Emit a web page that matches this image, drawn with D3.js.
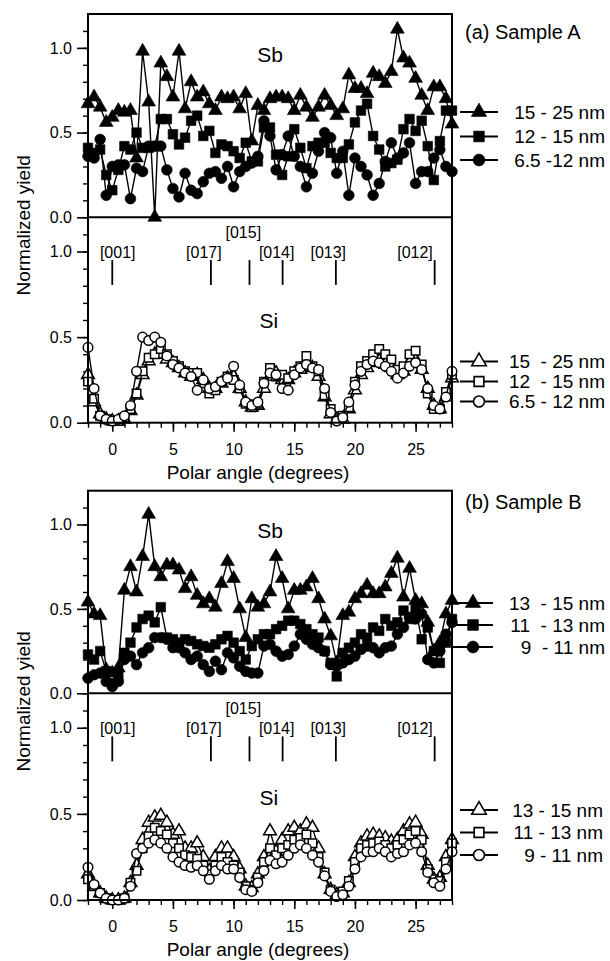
<!DOCTYPE html>
<html>
<head>
<meta charset="utf-8">
<script src="https://cdn.jsdelivr.net/npm/d3@7"></script>
<style>
  body { margin: 0; background: #fff; }
  text { font-family: "Liberation Sans", Arial, sans-serif; fill: #000; }
</style>
</head>
<body>
<script>
const WIDTH = 610;
const HEIGHT = 961;

// polar angle (degrees) of every measured point
const angles = [-2, -1.5, -1, -0.5, 0, 0.5, 1, 1.5, 2, 2.5, 3, 3.5, 4, 4.5, 5, 5.5, 6, 6.5, 7, 7.5,
  8, 8.5, 9, 9.5, 10, 10.5, 11, 11.5, 12, 12.5, 13, 13.5, 14, 14.5, 15, 15.5, 16, 16.5, 17, 17.5,
  18, 18.5, 19, 19.5, 20, 20.5, 21, 21.5, 22, 22.5, 23, 23.5, 24, 24.5, 25, 25.5, 26, 26.5, 27, 27.5, 28];

// (a) Sample A - Sb
const sbA1 = [0.67, 0.71, 0.65, 0.56, 0.59, 0.63, 0.62, 0.63, 0.35, 0.98,
  0.68, 0.00, 0.91, 0.83, 0.71, 0.98, 0.64, 0.80, 0.71, 0.74,
  0.67, 0.63, 0.71, 0.70, 0.71, 0.64, 0.73, 0.45, 0.66, 0.63,
  0.70, 0.71, 0.71, 0.70, 0.63, 0.72, 0.65, 0.59, 0.65, 0.72,
  0.66, 0.60, 0.64, 0.84, 0.76, 0.76, 0.73, 0.85, 0.83, 0.79,
  0.86, 1.11, 0.94, 0.91, 0.82, 0.72, 0.63, 0.77, 0.77, 0.70, 0.55];
const sbA2 = [0.41, 0.38, 0.40, 0.25, 0.16, 0.28, 0.42, 0.40, 0.50, 0.41,
  0.41, 0.42, 0.58, 0.58, 0.49, 0.43, 0.47, 0.57, 0.60, 0.48,
  0.51, 0.38, 0.43, 0.42, 0.39, 0.35, 0.44, 0.33, 0.33, 0.53,
  0.53, 0.37, 0.25, 0.36, 0.52, 0.41, 0.29, 0.42, 0.44, 0.44,
  0.38, 0.35, 0.35, 0.43, 0.56, 0.63, 0.67, 0.48, 0.40, 0.30,
  0.32, 0.34, 0.52, 0.58, 0.51, 0.57, 0.42, 0.22, 0.45, 0.63, 0.63];
const sbA3 = [0.36, 0.35, 0.46, 0.13, 0.30, 0.31, 0.31, 0.11, 0.29, 0.27,
  0.42, 0.42, 0.42, 0.28, 0.17, 0.12, 0.26, 0.16, 0.14, 0.21,
  0.26, 0.27, 0.23, 0.30, 0.18, 0.27, 0.30, 0.32, 0.36, 0.57,
  0.48, 0.28, 0.37, 0.48, 0.36, 0.30, 0.18, 0.26, 0.39, 0.50,
  0.47, 0.26, 0.39, 0.13, 0.35, 0.30, 0.25, 0.13, 0.20, 0.33,
  0.44, 0.35, 0.38, 0.44, 0.20, 0.27, 0.27, 0.35, 0.40, 0.30, 0.27];

// (a) Sample A - Si
const siA1 = [0.28, 0.12, 0.05, 0.02, 0.01, 0.01, 0.02, 0.07, 0.16, 0.28,
  0.36, 0.40, 0.40, 0.37, 0.35, 0.32, 0.29, 0.27, 0.28, 0.25,
  0.20, 0.20, 0.23, 0.26, 0.27, 0.20, 0.12, 0.09, 0.10, 0.20,
  0.27, 0.29, 0.25, 0.25, 0.29, 0.31, 0.35, 0.32, 0.27, 0.15,
  0.05, 0.02, 0.02, 0.08, 0.19, 0.28, 0.32, 0.35, 0.36, 0.34,
  0.32, 0.28, 0.30, 0.35, 0.36, 0.31, 0.20, 0.10, 0.08, 0.15, 0.26];
const siA2 = [0.24, 0.14, 0.04, 0.02, 0.01, 0.01, 0.03, 0.08, 0.17, 0.30,
  0.38, 0.40, 0.43, 0.40, 0.36, 0.33, 0.30, 0.29, 0.29, 0.23,
  0.17, 0.19, 0.24, 0.27, 0.25, 0.20, 0.11, 0.09, 0.11, 0.24,
  0.32, 0.27, 0.28, 0.26, 0.30, 0.33, 0.39, 0.33, 0.30, 0.16,
  0.08, 0.02, 0.04, 0.09, 0.24, 0.33, 0.36, 0.40, 0.43, 0.40,
  0.37, 0.31, 0.33, 0.40, 0.42, 0.34, 0.17, 0.08, 0.08, 0.18, 0.28];
const siA3 = [0.44, 0.20, 0.04, 0.02, 0.01, 0.02, 0.04, 0.10, 0.30, 0.50,
  0.48, 0.50, 0.47, 0.39, 0.34, 0.32, 0.29, 0.27, 0.19, 0.25,
  0.20, 0.21, 0.24, 0.26, 0.33, 0.22, 0.12, 0.10, 0.12, 0.23,
  0.29, 0.28, 0.20, 0.19, 0.28, 0.32, 0.34, 0.32, 0.31, 0.20,
  0.06, 0.01, 0.03, 0.12, 0.22, 0.30, 0.34, 0.36, 0.35, 0.33,
  0.30, 0.26, 0.29, 0.33, 0.35, 0.31, 0.20, 0.10, 0.08, 0.15, 0.30];

// (b) Sample B - Sb
const sbB1 = [0.54, 0.47, 0.46, 0.14, 0.12, 0.15, 0.61, 0.75, 0.60, 0.81,
  1.06, 0.75, 0.69, 0.76, 0.76, 0.73, 0.62, 0.69, 0.58, 0.53,
  0.56, 0.51, 0.65, 0.78, 0.68, 0.50, 0.33, 0.56, 0.51, 0.53,
  0.60, 0.81, 0.68, 0.50, 0.61, 0.61, 0.63, 0.68, 0.56, 0.44,
  0.34, 0.18, 0.46, 0.48, 0.56, 0.59, 0.64, 0.59, 0.59, 0.63,
  0.71, 0.80, 0.57, 0.74, 0.55, 0.53, 0.42, 0.25, 0.30, 0.47, 0.55];
const sbB2 = [0.23, 0.20, 0.25, 0.13, 0.06, 0.10, 0.24, 0.30, 0.39, 0.44,
  0.46, 0.42, 0.51, 0.33, 0.32, 0.30, 0.32, 0.31, 0.29, 0.28,
  0.27, 0.29, 0.32, 0.34, 0.30, 0.25, 0.20, 0.28, 0.32, 0.35,
  0.35, 0.38, 0.40, 0.43, 0.43, 0.41, 0.38, 0.35, 0.33, 0.25,
  0.18, 0.10, 0.24, 0.27, 0.30, 0.35, 0.33, 0.39, 0.37, 0.44,
  0.40, 0.42, 0.49, 0.44, 0.50, 0.32, 0.39, 0.25, 0.18, 0.30, 0.44];
const sbB3 = [0.09, 0.11, 0.12, 0.07, 0.04, 0.07, 0.20, 0.22, 0.17, 0.24,
  0.27, 0.33, 0.33, 0.32, 0.27, 0.27, 0.24, 0.20, 0.22, 0.17,
  0.13, 0.19, 0.14, 0.24, 0.21, 0.16, 0.13, 0.12, 0.12, 0.28,
  0.29, 0.25, 0.22, 0.23, 0.28, 0.35, 0.32, 0.29, 0.27, 0.25,
  0.17, 0.16, 0.18, 0.20, 0.22, 0.26, 0.28, 0.27, 0.24, 0.27,
  0.28, 0.35, 0.39, 0.45, 0.44, 0.47, 0.20, 0.18, 0.25, 0.35, 0.42];

// (b) Sample B - Si
const siB1 = [0.15, 0.08, 0.04, 0.01, 0.00, 0.00, 0.01, 0.10, 0.20, 0.35,
  0.45, 0.48, 0.49, 0.45, 0.38, 0.40, 0.30, 0.30, 0.33, 0.25,
  0.17, 0.25, 0.30, 0.30, 0.25, 0.18, 0.08, 0.07, 0.15, 0.25,
  0.40, 0.28, 0.35, 0.40, 0.42, 0.40, 0.44, 0.42, 0.30, 0.15,
  0.06, 0.03, 0.04, 0.10, 0.25, 0.33, 0.37, 0.38, 0.37, 0.36,
  0.34, 0.35, 0.40, 0.44, 0.45, 0.38, 0.20, 0.12, 0.13, 0.25, 0.35];
const siB2 = [0.12, 0.08, 0.04, 0.01, 0.00, 0.00, 0.01, 0.10, 0.17, 0.30,
  0.37, 0.42, 0.40, 0.38, 0.33, 0.30, 0.26, 0.25, 0.24, 0.20,
  0.15, 0.20, 0.25, 0.22, 0.20, 0.16, 0.08, 0.06, 0.13, 0.22,
  0.30, 0.26, 0.30, 0.32, 0.35, 0.36, 0.38, 0.33, 0.25, 0.16,
  0.06, 0.03, 0.05, 0.11, 0.22, 0.30, 0.32, 0.33, 0.34, 0.32,
  0.30, 0.32, 0.35, 0.38, 0.40, 0.35, 0.18, 0.12, 0.11, 0.22, 0.33];
const siB3 = [0.19, 0.09, 0.04, 0.01, 0.00, 0.00, 0.01, 0.08, 0.27, 0.30,
  0.33, 0.35, 0.33, 0.30, 0.25, 0.22, 0.20, 0.19, 0.20, 0.17,
  0.12, 0.17, 0.20, 0.18, 0.18, 0.13, 0.06, 0.05, 0.10, 0.17,
  0.23, 0.21, 0.22, 0.26, 0.30, 0.32, 0.30, 0.26, 0.22, 0.14,
  0.05, 0.02, 0.03, 0.08, 0.18, 0.25, 0.28, 0.28, 0.30, 0.28,
  0.25, 0.27, 0.28, 0.32, 0.33, 0.28, 0.16, 0.10, 0.08, 0.18, 0.28];

// legend texts
const legendSbA = ["15 - 25 nm", "12 - 15 nm", "6.5 -12 nm"];
const legendSiA = ["15  - 25 nm", "12  - 15 nm", "6.5 - 12 nm"];
const legendSbB = ["13  - 15 nm", "11  - 13 nm", "9  - 11 nm"];
const legendSiB = ["13 - 15 nm", "11 - 13 nm", "9 - 11 nm"];

// crystal directions marked in the Si panels
const dirNames = ["[001]", "[017]", "[015]", "[014]", "[013]", "[012]"];
const dirAngles = [0, 8.13, 11.31, 14.04, 18.43, 26.57];
const dirLabelAngles = [0.45, 7.55, 10.8, 13.55, 17.8, 24.95];
const dirLabelLevels = [1.0, 1.0, 1.115, 1.0, 1.0, 1.0];

// ticks
const yMajor = [0, 0.5, 1.0];
const yMinor = [0, 0.1, 0.2, 0.3, 0.4, 0.5, 0.6, 0.7, 0.8, 0.9, 1.0, 1.1];
const xMajor = [0, 5, 10, 15, 20, 25];
const xMinor = [-2, -1, 0, 1, 2, 3, 4, 5, 6, 7, 8, 9, 10, 11, 12, 13, 14, 15, 16, 17, 18, 19,
  20, 21, 22, 23, 24, 25, 26, 27, 28];

const markers = [d3.symbolTriangle, d3.symbolSquare, d3.symbolCircle];
const filledSizes = [82, 92, 90];
const openSizes = [70, 72, 72];

const svg = d3.select("body").append("svg")
  .attr("width", WIDTH)
  .attr("height", HEIGHT);

svg.append("rect").attr("width", WIDTH).attr("height", HEIGHT).attr("fill", "#fff");

const x = d3.scaleLinear().domain([-2, 28]).range([88, 452]);

// one figure part: an Sb block on top of an Si block
const panels = [
  {
    top: 14, mid: 217.3, bottom: 422.7,
    title: "(a) Sample A", titleY: 39,
    sb: [sbA1, sbA2, sbA3], si: [siA1, siA2, siA3],
    legSb: legendSbA, legSi: legendSiA,
    legSbRows: [112, 136.5, 160], legSiRows: [361.5, 381.5, 401.5],
    legSbLine: [460, 498], legSiLine: [460, 498], legSiEnd: 605
  },
  {
    top: 490.7, mid: 693.3, bottom: 900,
    title: "(b) Sample B", titleY: 509,
    sb: [sbB1, sbB2, sbB3], si: [siB1, siB2, siB3],
    legSb: legendSbB, legSi: legendSiB,
    legSbRows: [603, 625, 647], legSiRows: [810, 832.5, 855],
    legSbLine: [453, 493], legSiLine: [460, 498], legSiEnd: 603
  }
];

function drawSeries(g, y, series, filled) {
  series.forEach(function (vals, k) {
    const pts = angles.map((a, i) => [a, vals[i]]);
    g.append("path")
      .datum(pts)
      .attr("fill", "none")
      .attr("stroke", "#000")
      .attr("stroke-width", 1.4)
      .attr("d", d3.line().x(d => x(d[0])).y(d => y(d[1])));
    g.selectAll(null)
      .data(pts)
      .join("path")
      .attr("transform", d => `translate(${x(d[0])},${y(d[1])})`)
      .attr("d", d3.symbol().type(markers[k]).size(filled ? filledSizes[k] : openSizes[k]))
      .attr("fill", filled ? "#000" : "#fff")
      .attr("stroke", "#000")
      .attr("stroke-width", filled ? 0.6 : 1.5);
  });
}

function drawLegend(g, labels, rows, line, end, filled) {
  labels.forEach(function (lab, k) {
    const yy = rows[k];
    const mx = (line[0] + line[1]) / 2;
    g.append("line")
      .attr("x1", line[0]).attr("x2", line[1])
      .attr("y1", yy).attr("y2", yy)
      .attr("stroke", "#000").attr("stroke-width", 1.8);
    g.append("path")
      .attr("transform", `translate(${mx},${yy})`)
      .attr("d", d3.symbol().type(markers[k]).size(filled ? filledSizes[k] * 1.25 : openSizes[k] * 1.3))
      .attr("fill", filled ? "#000" : "#fff")
      .attr("stroke", "#000")
      .attr("stroke-width", filled ? 0.6 : 1.6);
    g.append("text")
      .attr("x", end).attr("y", yy + 6.5)
      .attr("text-anchor", "end")
      .style("white-space", "pre")
      .attr("font-size", 19)
      .text(lab);
  });
}

function yAxes(g, y) {
  g.append("g")
    .attr("transform", "translate(88,0)")
    .call(d3.axisLeft(y).tickValues(yMinor).tickSize(5).tickFormat(""))
    .call(a => a.select(".domain").remove())
    .selectAll("line").attr("stroke-width", 1.4);
  g.append("g")
    .attr("transform", "translate(88,0)")
    .call(d3.axisLeft(y).tickValues(yMajor).tickSize(11).tickPadding(5).tickFormat(d3.format(".1f")))
    .call(a => a.select(".domain").remove())
    .call(a => a.selectAll("line").attr("stroke-width", 1.6))
    .selectAll("text")
    .attr("font-size", 16)
    .attr("font-family", "Liberation Sans, Arial, sans-serif");
}

panels.forEach(function (p) {
  const g = svg.append("g");
  const ySb = d3.scaleLinear().domain([0, 1.2]).range([p.mid, p.top]);
  const ySi = d3.scaleLinear().domain([0, 1.2]).range([p.bottom, p.mid]);

  yAxes(g, ySb);
  yAxes(g, ySi);

  // bottom axis
  g.append("g")
    .attr("transform", `translate(0,${p.bottom})`)
    .call(d3.axisBottom(x).tickValues(xMinor).tickSize(5).tickFormat(""))
    .call(a => a.select(".domain").remove())
    .selectAll("line").attr("stroke-width", 1.4);
  g.append("g")
    .attr("transform", `translate(0,${p.bottom})`)
    .call(d3.axisBottom(x).tickValues(xMajor).tickSize(9).tickPadding(12))
    .call(a => a.select(".domain").remove())
    .call(a => a.selectAll("line").attr("stroke-width", 1.6))
    .selectAll("text")
    .attr("font-size", 16)
    .attr("font-family", "Liberation Sans, Arial, sans-serif");

  g.append("text")
    .attr("x", 258).attr("y", p.bottom + 56)
    .attr("text-anchor", "middle")
    .attr("font-size", 19)
    .text("Polar angle (degrees)");

  g.append("text")
    .attr("transform", `translate(30,${p.mid + 8}) rotate(-90)`)
    .attr("text-anchor", "middle")
    .attr("font-size", 19)
    .text("Normalized yield");

  // element labels
  g.append("text")
    .attr("x", x(13)).attr("y", ySb(0.96) + 7)
    .attr("text-anchor", "middle").attr("font-size", 21)
    .text("Sb");
  g.append("text")
    .attr("x", x(12.9)).attr("y", ySi(0.595) + 7)
    .attr("text-anchor", "middle").attr("font-size", 21)
    .text("Si");

  // crystal directions
  dirAngles.forEach(function (a, i) {
    g.append("line")
      .attr("x1", x(a)).attr("x2", x(a))
      .attr("y1", ySi(0.805)).attr("y2", ySi(0.95))
      .attr("stroke", "#000").attr("stroke-width", 1.8);
    g.append("text")
      .attr("x", x(dirLabelAngles[i])).attr("y", ySi(dirLabelLevels[i]) + 6)
      .attr("text-anchor", "middle").attr("font-size", 16)
      .text(dirNames[i]);
  });

  drawSeries(g, ySb, p.sb, true);
  drawSeries(g, ySi, p.si, false);

  // frame
  g.append("rect")
    .attr("x", 88).attr("y", p.top)
    .attr("width", 452 - 88).attr("height", p.bottom - p.top)
    .attr("fill", "none").attr("stroke", "#000").attr("stroke-width", 2);
  g.append("line")
    .attr("x1", 88).attr("x2", 452)
    .attr("y1", p.mid).attr("y2", p.mid)
    .attr("stroke", "#000").attr("stroke-width", 2);

  g.append("text")
    .attr("x", 465).attr("y", p.titleY)
    .attr("font-size", 20)
    .text(p.title);

  drawLegend(g, p.legSb, p.legSbRows, p.legSbLine, 605, true);
  drawLegend(g, p.legSi, p.legSiRows, p.legSiLine, p.legSiEnd, false);
});
</script>
</body>
</html>
